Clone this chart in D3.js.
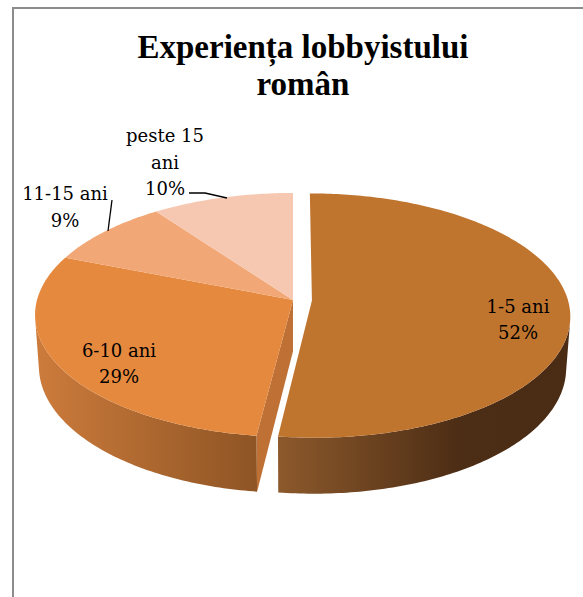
<!DOCTYPE html>
<html>
<head>
<meta charset="utf-8">
<script src="https://cdn.jsdelivr.net/npm/d3@7"></script>
<style>
  body { margin: 0; background: #fff; }
  svg { display: block; }
</style>
</head>
<body>
<script>
// data
var categories = ["1-5 ani", "6-10 ani", "11-15 ani", "peste 15 ani"];
var percents = [52, 29, 9, 10];
var labelLines = [["1-5 ani", "52%"], ["6-10 ani", "29%"], ["11-15 ani", "9%"], ["peste 15", "ani", "10%"]];
var titleLines = ["Experiența lobbyistului", "român"];

var width = 583, height = 597;
var titleFont = "'Liberation Serif', serif";
var labelFont = "'DejaVu Serif', serif";

// 3d view: unit disk seen from a tilted camera with some perspective
var cx = 293, cy = 300, k = 256;
var tilt = 28 * Math.PI / 180, dist = 7.2, thick = 0.23, explode = 0.074;
var cosT = Math.cos(tilt), sinT = Math.sin(tilt);
var camera = [0, dist * sinT, -dist * cosT];

var topColor = ["#c0752f", "#e5893f", "#f2a776", "#f7c8b1"];
var sideStops = [
    [[275, "#8e5a2c"], [460, "#4c2d15"], [570, "#4a2b14"]],
    [[38, "#cc7b3b"], [255, "#8f5525"]],
    [[38, "#d8915e"], [150, "#c97f4d"]],
    [[150, "#e0ab90"], [293, "#d29a7e"]]
];
var faceColor = ["#8a5428", "#bf7035", "#d8915e", "#e0ab90"];

// label layout (centre x, first baseline y, line step)
var labelAt = [[518, 313, 26], [119, 357, 26], [65, 200, 27], [165, 142, 26.5]];

var svg = d3.select("body").append("svg")
    .attr("width", width)
    .attr("height", height);

var defs = svg.append("defs");

// border
svg.append("path")
    .attr("d", "M13," + height + "L13,8L" + width + ",8")
    .attr("fill", "none")
    .attr("stroke", "#8c8c8c")
    .attr("stroke-width", 2);

// title
svg.append("text")
    .attr("text-anchor", "middle")
    .attr("font-family", titleFont)
    .attr("font-weight", "bold")
    .attr("font-size", 33)
    .selectAll("tspan")
    .data(titleLines)
    .enter().append("tspan")
    .attr("x", 303)
    .attr("y", function(d, i) { return 58 + i * 37; })
    .text(function(d) { return d; });

var arcs = d3.pie().sort(null).value(function(d) { return d; })(percents);

// world point -> screen point
function project(p) {
    var yc = p[1] * cosT + p[2] * sinT,
        zc = p[2] * cosT - p[1] * sinT,
        s = 1 / (1 + zc / dist);
    return [cx + k * p[0] * s, cy - k * yc * s];
}

function rim(a, off, y) {
    return [off[0] + Math.sin(a), y, off[1] + Math.cos(a)];
}

function sampleAngles(a0, a1) {
    var n = Math.max(2, Math.ceil((a1 - a0) / 0.015));
    return d3.range(n + 1).map(function(i) { return a0 + (a1 - a0) * i / n; });
}

function wallVisible(a, off) {
    var p = rim(a, off, 0);
    return (camera[0] - p[0]) * Math.sin(a) + (camera[2] - p[2]) * Math.cos(a) > 0;
}

var line = d3.line();

sideStops.forEach(function(stops, i) {
    var g = defs.append("linearGradient")
        .attr("id", "side" + i)
        .attr("gradientUnits", "userSpaceOnUse")
        .attr("x1", stops[0][0]).attr("x2", stops[stops.length - 1][0])
        .attr("y1", 0).attr("y2", 0);
    var span = stops[stops.length - 1][0] - stops[0][0];
    stops.forEach(function(s) {
        g.append("stop")
            .attr("offset", (s[0] - stops[0][0]) / span)
            .attr("stop-color", s[1]);
    });
});

function offsetOf(d, i) {
    if (i !== 0) return [0, 0];
    var mid = (d.startAngle + d.endAngle) / 2;
    return [explode * Math.sin(mid), explode * Math.cos(mid)];
}

function drawSides(d, i, g) {
    var off = offsetOf(d, i);
    var centerTop = [off[0], 0, off[1]], centerBot = [off[0], -thick, off[1]];

    // radial face left open by the exploded slice
    if (i === 1) {
        var a = d.startAngle;
        g.append("path")
            .attr("d", line([centerTop, rim(a, off, 0), rim(a, off, -thick), centerBot].map(project)) + "Z")
            .attr("fill", faceColor[i]);
    }

    // curved wall, only the runs that face the camera
    var runs = [], cur = null;
    sampleAngles(d.startAngle, d.endAngle).forEach(function(a) {
        if (wallVisible(a, off)) {
            if (!cur) { cur = []; runs.push(cur); }
            cur.push(a);
        } else cur = null;
    });
    runs.forEach(function(run) {
        if (run.length < 2) return;
        var upper = run.map(function(a) { return project(rim(a, off, 0)); });
        var lower = run.map(function(a) { return project(rim(a, off, -thick)); }).reverse();
        g.append("path")
            .attr("d", line(upper.concat(lower)) + "Z")
            .attr("fill", "url(#side" + i + ")");
    });
}

function drawTop(d, i, g) {
    var off = offsetOf(d, i);
    var pts = [project([off[0], 0, off[1]])].concat(sampleAngles(d.startAngle, d.endAngle).map(function(a) {
        return project(rim(a, off, 0));
    }));
    g.append("path")
        .attr("d", line(pts) + "Z")
        .attr("fill", topColor[i]);
}

var main = svg.append("g");
[1, 2, 3].forEach(function(i) { drawSides(arcs[i], i, main); });
[1, 2, 3].forEach(function(i) { drawTop(arcs[i], i, main); });
var out = svg.append("g");
drawSides(arcs[0], 0, out);
drawTop(arcs[0], 0, out);

// leader lines
var leaders = [
    [[108, 231], [112, 200]],
    [[227, 198], [205, 193], [189, 193]]
];
svg.selectAll(".leader")
    .data(leaders)
    .enter().append("path")
    .attr("class", "leader")
    .attr("d", function(d) { return line(d); })
    .attr("fill", "none")
    .attr("stroke", "#000")
    .attr("stroke-width", 1.3);

// labels
labelLines.forEach(function(lines, i) {
    svg.append("text")
        .attr("text-anchor", "middle")
        .attr("font-family", labelFont)
        .attr("font-size", 18)
        .selectAll("tspan")
        .data(lines)
        .enter().append("tspan")
        .attr("x", labelAt[i][0])
        .attr("y", function(d, j) { return labelAt[i][1] + j * labelAt[i][2]; })
        .text(function(d) { return d; });
});
</script>
</body>
</html>
